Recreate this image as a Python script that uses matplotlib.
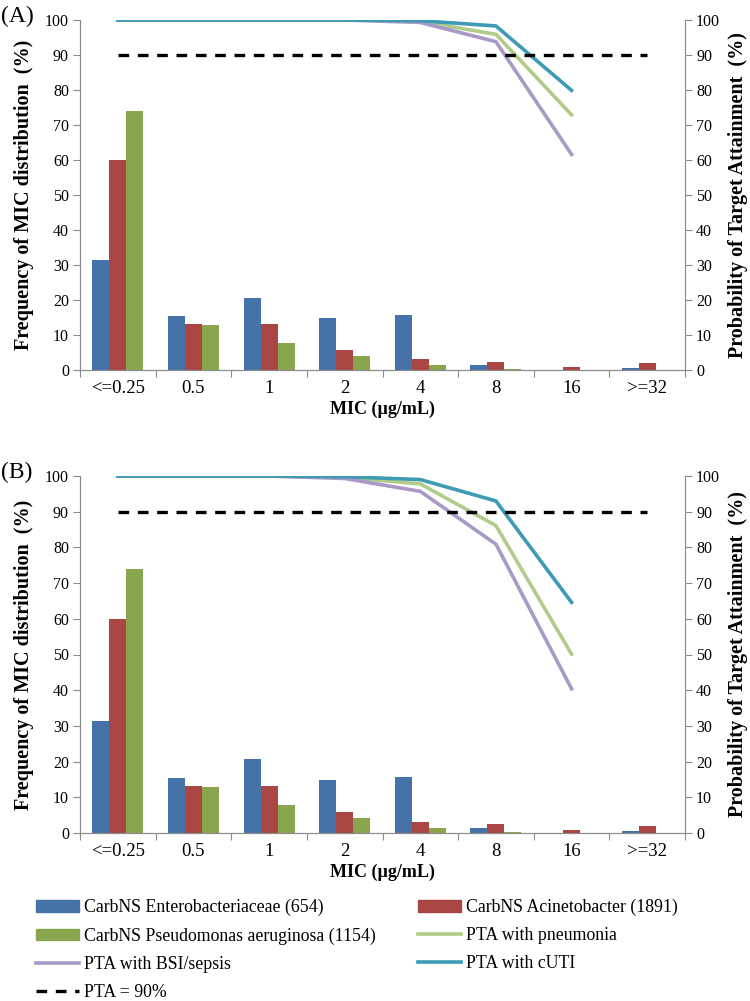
import matplotlib
matplotlib.use("Agg")
import matplotlib.pyplot as plt
from matplotlib.patches import Patch
from matplotlib.lines import Line2D
import numpy as np

plt.rcParams['font.family'] = ['Liberation Serif', 'DejaVu Serif']

categories = ["<=0.25", "0.5", "1", "2", "4", "8", "16", ">=32"]
entero = [31.3, 15.4, 20.6, 14.9, 15.8, 1.4, 0.0, 0.6]
acineto = [59.9, 13.1, 13.1, 5.8, 3.1, 2.4, 0.9, 2.1]
pseudo = [73.9, 12.8, 7.8, 4.1, 1.3, 0.4, 0.0, 0.0]

pta_A_pneu = [100, 100, 100, 100, 99.6, 95.9, 72.9]
pta_A_bsi = [100, 100, 100, 100, 99.3, 93.8, 61.6]
pta_A_cuti = [100, 100, 100, 100, 99.8, 98.3, 79.9]

pta_B_pneu = [100, 100, 100, 99.6, 97.8, 86.1, 50.1]
pta_B_bsi = [100, 100, 100, 99.3, 95.7, 80.9, 40.4]
pta_B_cuti = [100, 100, 100, 99.8, 99.0, 93.0, 64.6]

target = 90

c_ent = "#4572A7"
c_aci = "#AA4643"
c_pse = "#89A54E"
c_pneu = "#B0CB8A"
c_bsi = "#A899C6"
c_cuti = "#3D9BB5"
c_spine = "#8C8C8C"

W, H = 750, 1001
fig = plt.figure(figsize=(W / 100, H / 100), dpi=100)


def panel(top_px, bottom_px, pneu, bsi, cuti, tag):
    left, right = 80, 685
    ax = fig.add_axes([left / W, 1 - bottom_px / H, (right - left) / W, (bottom_px - top_px) / H])
    x = np.arange(len(categories))
    bw = 0.225
    ax.bar(x - bw, entero, bw, color=c_ent, zorder=2)
    ax.bar(x, acineto, bw, color=c_aci, zorder=2)
    ax.bar(x + bw, pseudo, bw, color=c_pse, zorder=2)
    ax.set_xlim(-0.5, len(categories) - 0.5)
    ax.set_ylim(0, 100)
    ax.set_yticks(np.arange(0, 101, 10))
    ax.tick_params(axis='y', labelsize=11.5, length=5, color=c_spine, pad=3)
    ax.set_xticks(np.arange(-0.5, len(categories), 1))
    ax.set_xticklabels([])
    ax.set_xticks(x, minor=True)
    ax.set_xticklabels(categories, minor=True, fontsize=13.5)
    ax.tick_params(axis='x', which='major', length=5, color=c_spine)
    ax.tick_params(axis='x', which='minor', length=0, pad=7)
    for s in ['top']:
        ax.spines[s].set_visible(False)
    for s in ['left', 'bottom', 'right']:
        ax.spines[s].set_color(c_spine)
    ax.set_xlabel("MIC (\u00b5g/mL)", fontsize=13, fontweight='bold', labelpad=3)
    ax.set_ylabel("Frequency of MIC distribution  (%)", fontsize=14.5, fontweight='bold', labelpad=8)

    ax2 = ax.twinx()
    ax2.set_ylim(0, 100)
    ax2.set_yticks(np.arange(0, 101, 10))
    ax2.tick_params(axis='y', labelsize=11.5, length=5, color=c_spine, pad=3)
    for s in ['top']:
        ax2.spines[s].set_visible(False)
    for s in ['left', 'bottom', 'right']:
        ax2.spines[s].set_color(c_spine)
    ax2.set_ylabel("Probability of Target Attainment  (%)", fontsize=14.5, fontweight='bold', labelpad=6)
    xl = np.arange(len(pneu))
    ax2.plot(xl, pneu, color=c_pneu, lw=2.6, zorder=3)
    ax2.plot(xl, bsi, color=c_bsi, lw=2.6, zorder=3)
    ax2.plot(xl, cuti, color=c_cuti, lw=2.6, zorder=4)
    ax2.plot(x, [target] * len(categories), color='black', lw=2.4, ls=(0, (3.2, 2.6)), zorder=5)
    fig.text(1 / W, 1 - (top_px - 4) / H, tag, fontsize=17, va='center', ha='left')
    return ax


panel(20, 370, pta_A_pneu, pta_A_bsi, pta_A_cuti, "(A)")
panel(476, 833, pta_B_pneu, pta_B_bsi, pta_B_cuti, "(B)")

handles = [
    Patch(color=c_ent, label="CarbNS Enterobacteriaceae (654)"),
    Patch(color=c_pse, label="CarbNS Pseudomonas aeruginosa (1154)"),
    Line2D([], [], color=c_bsi, lw=2.6, label="PTA with BSI/sepsis"),
    Line2D([], [], color='black', lw=2.4, ls=(0, (3.2, 2.6)), label="PTA = 90%"),
    Patch(color=c_aci, label="CarbNS Acinetobacter (1891)"),
    Line2D([], [], color=c_pneu, lw=2.6, label="PTA with pneumonia"),
    Line2D([], [], color=c_cuti, lw=2.6, label="PTA with cUTI"),
]
fig.legend(handles=handles, ncol=2, loc='upper left', bbox_to_anchor=(36 / W, 1 - 899 / H),
           frameon=False, fontsize=12.8, handlelength=2.4, handleheight=0.6,
           handletextpad=0.3, labelspacing=0.62, columnspacing=2.4, borderaxespad=0,
           borderpad=0)

fig.savefig("out.png", dpi=100)
